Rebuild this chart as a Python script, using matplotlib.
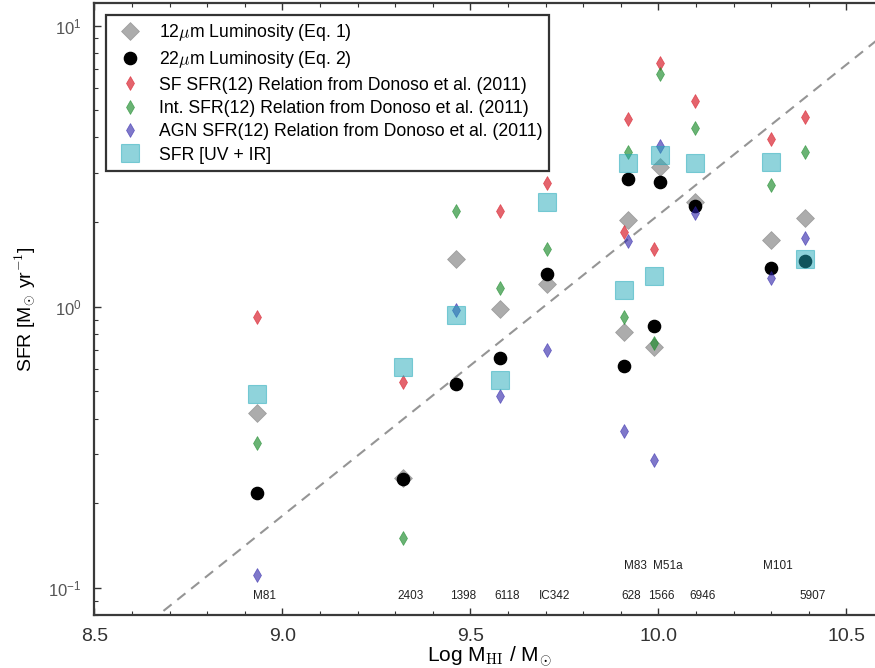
import numpy as np
import matplotlib
matplotlib.use('Agg')
import matplotlib.pyplot as plt
import matplotlib.transforms as mtransforms

plt.rcParams['font.family'] = ['Liberation Sans', 'DejaVu Sans']
plt.rcParams['mathtext.fontset'] = 'cm'

nan = np.nan

# galaxies (log HI mass) and star formation rates in Msun/yr
gal_names = ['M81', '2403', '1398', '6118', 'IC342', '628', 'M83', '1566', 'M51a', '6946', 'M101', '5907']
label_row = [0, 0, 0, 0, 0, 0, 1, 0, 1, 0, 1, 0]
log_mhi = [8.932, 9.320, 9.462, 9.579, 9.704, 9.909, 9.920, 9.989, 10.005, 10.098, 10.299, 10.390]

sfr_12um = [0.418, 0.245, 1.48, 0.978, 1.20, 0.815, 2.03, 0.721, 3.14, 2.35, 1.72, 2.06]
sfr_22um = [0.218, 0.244, 0.532, 0.659, 1.31, 0.613, 2.85, 0.856, 2.77, 2.28, 1.37, 1.45]
sfr_donoso_sf = [0.92, 0.539, nan, 2.19, 2.75, 1.85, 4.65, 1.61, 7.39, 5.40, 3.95, 4.72]
sfr_donoso_int = [0.327, 0.150, 2.19, 1.17, 1.61, 0.922, 3.54, 0.741, 6.72, 4.31, 2.72, 3.56]
sfr_donoso_agn = [0.111, nan, 0.973, 0.480, 0.70, 0.360, 1.71, 0.286, 3.74, 2.15, 1.26, 1.75]
sfr_uvir = [0.489, 0.608, 0.934, 0.549, 2.36, 1.15, 3.25, 1.29, 3.47, 3.25, 3.28, 1.48]

# dashed reference relation: log SFR = a * log M_HI + b
fit_a, fit_b = 1.07, -10.374
fit_x = np.array([8.5, 10.6])

fig = plt.figure(figsize=(8.75, 6.68), dpi=100)
ax = fig.add_axes([0.1078, 0.0793, 0.9024, 0.9157])

ax.plot(fit_x, 10 ** (fit_a * fit_x + fit_b), color='#959595', lw=1.5,
        dashes=(5, 3.5), zorder=0.5)

ax.plot(log_mhi, sfr_12um, ls='none', marker='D', ms=9.2, color='0.5', alpha=0.65,
        mec='0.5', mew=0.5, zorder=1, label=r'12$\mu$m Luminosity (Eq. 1)')
ax.plot(log_mhi, sfr_22um, ls='none', marker='o', ms=8.8, color='k',
        mec='k', zorder=2, label=r'22$\mu$m Luminosity (Eq. 2)')
ax.plot(log_mhi, sfr_donoso_sf, ls='none', marker='d', ms=7.6, color='#d9232f', alpha=0.7,
        mec='#d9232f', mew=0.5, zorder=3, label='SF SFR(12) Relation from Donoso et al. (2011)')
ax.plot(log_mhi, sfr_donoso_int, ls='none', marker='d', ms=7.6, color='#1a8a2a', alpha=0.65,
        mec='#1a8a2a', mew=0.5, zorder=4, label='Int. SFR(12) Relation from Donoso et al. (2011)')
ax.plot(log_mhi, sfr_donoso_agn, ls='none', marker='d', ms=7.6, color='#2a1fa8', alpha=0.6,
        mec='#2a1fa8', mew=0.5, zorder=5, label='AGN SFR(12) Relation from Donoso et al. (2011)')
ax.plot(log_mhi, sfr_uvir, ls='none', marker='s', ms=13, color='#20a8b8', alpha=0.5,
        mec='#20a8b8', mew=0.8, zorder=6, label='SFR [UV + IR]')

# galaxy names along the bottom
trans = mtransforms.blended_transform_factory(ax.transData, ax.transAxes)
row_y = [0.031, 0.080]
for name, x, row in zip(gal_names, log_mhi, label_row):
    ax.text(x + 0.02, row_y[row], name, transform=trans, ha='center', va='center',
            fontsize=8.5, color='#222222')

ax.set_yscale('log')
ax.set_xlim(8.5, 10.6)
ax.set_ylim(0.08, 12)
ax.set_xticks([8.5, 9.0, 9.5, 10.0, 10.5])
ax.set_xticks(np.arange(8.5, 10.61, 0.1), minor=True)
ax.tick_params(which='both', direction='in', top=True, right=True, colors='#333333')
ax.tick_params(which='major', length=5, width=1)
ax.tick_params(which='minor', length=3, width=0.8)
ax.tick_params(axis='x', labelsize=14, pad=9)
ax.tick_params(axis='y', labelsize=12, pad=9, labelcolor='#555555')
for sp in ax.spines.values():
    sp.set_linewidth(1.6)
    sp.set_color('#3a3a3a')

ax.set_xlabel(r'Log M$_{\rm HI}$ / M$_{\odot}$', fontsize=15, labelpad=0)
ax.set_ylabel(r'SFR [M$_{\odot}$ yr$^{-1}$]', fontsize=14, labelpad=8)

leg = ax.legend(loc='upper left', fontsize=12.7, numpoints=1, fancybox=False,
                borderaxespad=0.65, borderpad=0.4, handlelength=2.0,
                handletextpad=0.6, labelspacing=0.36, framealpha=1)
leg.get_frame().set_edgecolor('#333333')
leg.get_frame().set_linewidth(1.6)
leg.set_zorder(10)

fig.savefig('out.png', dpi=100, facecolor='white')
